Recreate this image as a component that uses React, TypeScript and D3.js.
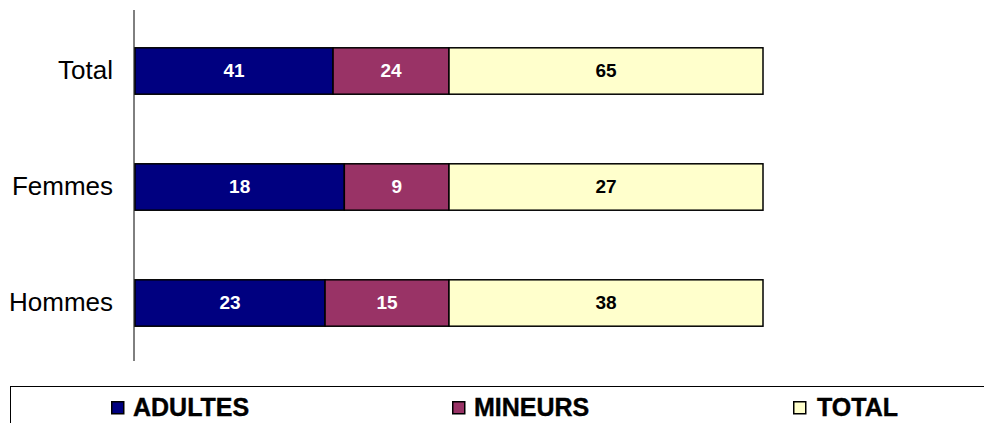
import React from "react";
import * as d3 from "d3";

const categories = ["Total", "Femmes", "Hommes"];
const seriesNames = ["ADULTES", "MINEURS", "TOTAL"];
const adultes = [41, 18, 23];
const mineurs = [24, 9, 15];
const totals = [65, 27, 38];
const colors = ["#000080", "#993366", "#FFFFCC"];
const labelColors = ["#ffffff", "#ffffff", "#000000"];

export default function App() {
  const W = 984, H = 423;
  const x = d3.scaleLinear().domain([0, 1]).range([135, 763]);
  const y = d3.scaleBand<string>().domain(categories).range([13, 361]).paddingInner(0.6).paddingOuter(0.3);
  const rows = categories.map((c, i) => ({ cat: c, ADULTES: adultes[i], MINEURS: mineurs[i], TOTAL: totals[i] }));
  const stack = d3.stack<any>().keys(seriesNames).offset(d3.stackOffsetExpand);
  const layers = stack(rows);
  const legendX = [111, 452, 793];
  const legendTextX = [133, 474, 817];
  return (
    <svg width={W} height={H} style={{ position: "absolute", left: 0, top: 0 }} fontFamily="Arial, 'Liberation Sans', sans-serif">
      <rect x={0} y={0} width={W} height={H} fill="#fff" />
      {layers.map((layer, si) =>
        layer.map((d, ci) => {
          const x0 = x(d[0]), x1 = x(d[1]);
          const yy = y(categories[ci])!;
          return (
            <g key={si + "-" + ci}>
              <rect x={x0} y={yy} width={x1 - x0} height={y.bandwidth()} fill={colors[si]} stroke="#000" strokeWidth={1.5} />
              <text x={(x0 + x1) / 2} y={yy + y.bandwidth() / 2} dy="0.33em" textAnchor="middle" fontWeight="bold" fontSize={19} fill={labelColors[si]}>
                {(d.data as any)[seriesNames[si]]}
              </text>
            </g>
          );
        })
      )}
      <line x1={134} x2={134} y1={10} y2={361} stroke="#000" strokeWidth={1} />
      {categories.map((c) => (
        <text key={c} x={113} y={y(c)! + y.bandwidth() / 2} dy="0.3em" textAnchor="end" fontSize={26} fill="#000">
          {c}
        </text>
      ))}
      <rect x={10.5} y={386.5} width={990} height={60} fill="none" stroke="#000" strokeWidth={1} />
      {seriesNames.map((s, i) => (
        <g key={s}>
          <rect x={legendX[i] + 0.75} y={401.75} width={12} height={12} fill={colors[i]} stroke="#000" strokeWidth={1.5} />
          <text x={legendTextX[i]} y={415.5} fontWeight="bold" fontSize={25} fill="#000" stroke="#000" strokeWidth={0.4}>
            {s}
          </text>
        </g>
      ))}
    </svg>
  );
}
